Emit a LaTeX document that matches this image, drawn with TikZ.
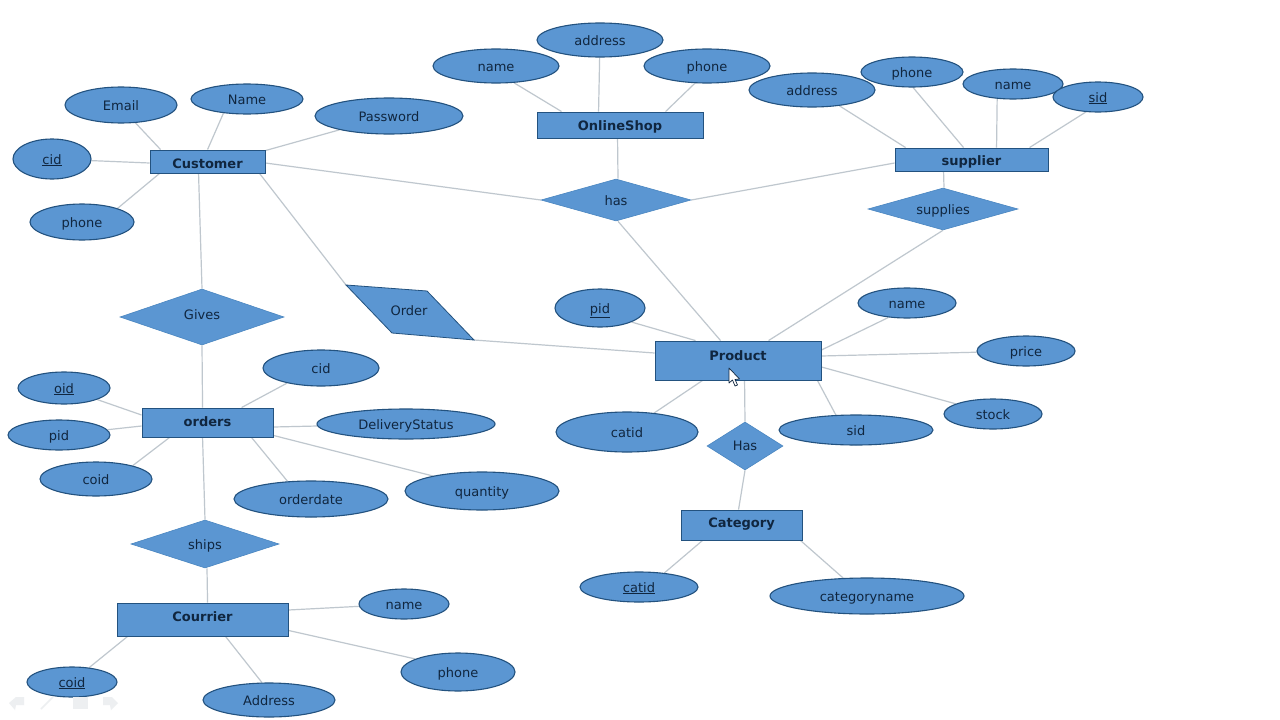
\documentclass[tikz,border=0pt]{standalone}
\usepackage{fontspec}
\setmainfont{DejaVu Sans}
\usetikzlibrary{shapes.geometric,backgrounds}
\definecolor{fillblue}{HTML}{5B96D2}
\definecolor{edgeblue}{HTML}{23527F}
\definecolor{diamedge}{HTML}{4A86C0}
\definecolor{linegrey}{HTML}{BFC7CE}
\definecolor{inkblue}{HTML}{10263F}
\definecolor{faint}{HTML}{EDEFF1}
\tikzset{
  labelmetrics/.style={text height=12pt,text depth=2pt},
  attrnode/.style={ellipse,draw=edgeblue,line width=1.1pt,fill=fillblue,text=inkblue,inner sep=0pt,labelmetrics,font=\fontsize{13}{15}\selectfont},
  entnode/.style={rectangle,draw=edgeblue,line width=.9pt,fill=fillblue,text=inkblue,inner sep=0pt,labelmetrics,font=\fontsize{13}{15}\selectfont\bfseries},
  relnode/.style={diamond,draw=diamedge,line width=.6pt,fill=fillblue,text=inkblue,inner sep=0pt,labelmetrics,font=\fontsize{13}{15}\selectfont},
  conn/.style={draw=linegrey,line width=1.2pt},
  toolbar/.style={fill=faint,draw=none}
}
% raises a label by #1 without changing the size of its node
\newcommand{\lift}[2]{\raisebox{#1}[0pt][0pt]{#2}}
% name, x, y, half width, half height, text
\newcommand{\attrat}[6]{\node[attrnode,minimum width=#4*2pt,minimum height=#5*2pt] (#1) at (#2,#3) {#6};}
\newcommand{\entat}[6]{\node[entnode,minimum width=#4*2pt,minimum height=#5*2pt] (#1) at (#2,#3) {#6};}
\newcommand{\relat}[6]{\pgfmathsetmacro{\relasp}{#4/#5}\node[relnode,minimum width=#4*2pt,minimum height=#5*2pt,shape aspect=\relasp] (#1) at (#2,#3) {#6};}
\begin{document}
\begin{tikzpicture}[x=1pt,y=-1pt]
\useasboundingbox (0,0) rectangle (1280,720);

% entities
\entat{customer}{207.5}{161.5}{57.5}{11.5}{\lift{-2pt}{Customer}}
\entat{shop}{620}{125}{83}{13}{\lift{0pt}{OnlineShop}}
\entat{supplier}{971.5}{159.5}{76.5}{11.5}{\lift{-1pt}{supplier}}
\entat{product}{738}{360.5}{83}{19.5}{\lift{5pt}{Product}}
\entat{category}{741.5}{525}{60.5}{15}{\lift{3pt}{Category}}
\entat{orders}{207.5}{422.5}{65.5}{14.5}{\lift{1.5pt}{orders}}
\entat{courrier}{202.5}{619.5}{85.5}{16.5}{\lift{3pt}{Courrier}}

% relationships
\relat{has}{616}{200}{75}{21}{has}
\relat{supplies}{943}{209}{75}{21}{supplies}
\relat{hasb}{745}{446}{38}{24}{\lift{1pt}{Has}}
\relat{gives}{202}{317}{82}{28}{\lift{3pt}{Gives}}
\relat{ships}{205}{544}{74}{24}{ships}

% parallelogram
\coordinate (ordertl) at (346,285);
\coordinate (ordertr) at (427,291);
\coordinate (orderbr) at (474,340);
\coordinate (orderbl) at (392,333);
\draw[fill=fillblue,draw=edgeblue,line width=.8pt] (ordertl) -- (ordertr) -- (orderbr) -- (orderbl) -- cycle;
\node[text=inkblue,font=\fontsize{13}{15}\selectfont,inner sep=0pt,labelmetrics] (order) at (409,310) {Order};

% customer attributes
\attrat{email}{121}{105}{56}{18}{Email}
\attrat{cname}{247}{99}{56}{15}{Name}
\attrat{password}{389}{116}{74}{18}{Password}
\attrat{ccid}{52}{159}{39}{20}{\underline{cid}}
\attrat{cphone}{82}{222}{52}{18}{phone}
% shop attributes
\attrat{sname}{496}{66}{63}{17}{name}
\attrat{saddress}{600}{40}{63}{17}{address}
\attrat{sphone}{707}{66}{63}{17}{phone}
% supplier attributes
\attrat{paddress}{812}{90}{63}{17}{address}
\attrat{pphone}{912}{72}{51}{15}{phone}
\attrat{pname}{1013}{84}{50}{15}{name}
\attrat{psid}{1098}{97}{45}{15}{\underline{sid}}
% product attributes
\attrat{pid}{600}{308}{45}{19}{\underline{pid}}
\attrat{prname}{907}{303}{49}{15}{name}
\attrat{price}{1026}{351}{49}{15}{price}
\attrat{stock}{993}{414}{49}{15}{stock}
\attrat{prsid}{856}{430}{77}{15}{sid}
\attrat{prcatid}{627}{432}{71}{20}{catid}
% category attributes
\attrat{catid}{639}{587}{59}{15}{\underline{catid}}
\attrat{catname}{867}{596}{97}{18}{categoryname}
% orders attributes
\attrat{oid}{64}{388}{46}{16}{\underline{oid}}
\attrat{opid}{59}{435}{51}{15}{pid}
\attrat{ocoid}{96}{479}{56}{17}{coid}
\attrat{ocid}{321}{368}{58}{18}{cid}
\attrat{status}{406}{424}{89}{15}{DeliveryStatus}
\attrat{odate}{311}{499}{77}{18}{orderdate}
\attrat{quantity}{482}{491}{77}{19}{quantity}
% courrier attributes
\attrat{crname}{404}{604}{45}{15}{name}
\attrat{crphone}{458}{672}{57}{19}{phone}
\attrat{craddress}{269}{700}{66}{17}{Address}
\attrat{crcoid}{72}{682}{45}{15}{\underline{coid}}

\begin{scope}[on background layer]
\fill[white] (0,0) rectangle (1280,720);
% customer
\draw[conn] (email.-51) -- ([xshift=11pt]customer.north west);
\draw[conn] (cname.211) -- ([xshift=58pt]customer.north west);
\draw[conn] (password) -- ([yshift=-1pt]customer.north east);
\draw[conn] (ccid) -- ([yshift=-1.5pt]customer.west);
\draw[conn] (cphone.21) -- ([xshift=10pt]customer.south west);
\draw[conn] ([yshift=-1.5pt]customer.east) -- (has.west);
\draw[conn] (has.east) -- ([yshift=-3.5pt]supplier.west);
\draw[conn] ([xshift=110pt]customer.south west) -- (ordertl);
\draw[conn] (orderbr) -- ([yshift=7.5pt]product.west);
\draw[conn] ([xshift=49pt]customer.south west) -- (gives.north);
\draw[conn] (gives.south) -- ([xshift=61pt]orders.north west);
% shop
\draw[conn] (sname.-43) -- ([xshift=25pt]shop.north west);
\draw[conn] (saddress) -- ([xshift=62pt]shop.north west);
\draw[conn] (sphone.-125) -- ([xshift=129pt]shop.north west);
\draw[conn] ([xshift=81pt]shop.south west) -- ([xshift=2pt]has.north);
% supplier
\draw[conn] (paddress.-30) -- ([xshift=11pt]supplier.north west);
\draw[conn] (pphone.-86) -- ([xshift=69pt]supplier.north west);
\draw[conn] (pname.-137) -- ([xshift=102pt]supplier.north west);
\draw[conn] (psid.-129) -- ([xshift=135pt]supplier.north west);
\draw[conn] ([xshift=49pt]supplier.south west) -- ([xshift=1pt]supplies.north);
\draw[conn] (supplies.south) -- ([xshift=114pt]product.north west);
\draw[conn] ([xshift=2pt]has.south) -- ([xshift=66pt]product.north west);
% product
\draw[conn] (pid.-24) -- ([xshift=41pt]product.north west);
\draw[conn] (prname.-142) -- ([yshift=10.5pt]product.east);
\draw[conn] (price) -- ([yshift=4.5pt]product.east);
\draw[conn] (stock) -- ([yshift=-6.5pt]product.east);
\draw[conn] (prsid.-104) -- ([xshift=-4pt]product.south east);
\draw[conn] (prcatid.35) -- ([xshift=48pt]product.south west);
\draw[conn] ([xshift=90pt]product.south west) -- (hasb.north);
\draw[conn] (hasb.south) -- ([xshift=58pt]category.north west);
% category
\draw[conn] (catid.29) -- ([xshift=22pt]category.south west);
\draw[conn] (catname.143) -- ([xshift=-2pt]category.south east);
% orders
\draw[conn] (oid) -- ([yshift=7.5pt]orders.west);
\draw[conn] (opid) -- ([yshift=-3.5pt]orders.west);
\draw[conn] (ocoid.20) -- ([xshift=28pt]orders.south west);
\draw[conn] (ocid.204) -- ([xshift=100pt]orders.north west);
\draw[conn] (status) -- ([yshift=-4.5pt]orders.east);
\draw[conn] (odate.143) -- ([xshift=110pt]orders.south west);
\draw[conn] (quantity.163) -- ([yshift=2pt]orders.south east);
\draw[conn] ([xshift=61pt]orders.south west) -- (ships.north);
\draw[conn] ([xshift=2pt]ships.south) -- ([xshift=91pt]courrier.north west);
% courrier
\draw[conn] (crname) -- ([yshift=9.5pt]courrier.east);
\draw[conn] (crphone.163) -- ([yshift=6pt]courrier.south east);
\draw[conn] (craddress.112) -- ([xshift=109pt]courrier.south west);
\draw[conn] (crcoid.40) -- ([xshift=11pt]courrier.south west);
\end{scope}

% mouse cursor
\draw[fill=white,draw=inkblue,line width=.7pt,line join=round]
  (729,368) -- (729,383) -- (732.5,380) -- (735,386) -- (737.5,385) -- (735,379.5) -- (739.5,379) -- cycle;

% faint slide-show toolbar
\fill[toolbar] (9,703) -- (16,697) -- (24,697) -- (24,705) -- (16,705) -- (15,710) -- cycle;
\draw[faint,line width=1.5pt] (41,709) -- (53,697);
\fill[toolbar] (73,697) rectangle (88,709);
\fill[toolbar] (103,697) -- (112,697) -- (118,703) -- (111,710) -- (110,705) -- (103,705) -- cycle;
\end{tikzpicture}
\end{document}
